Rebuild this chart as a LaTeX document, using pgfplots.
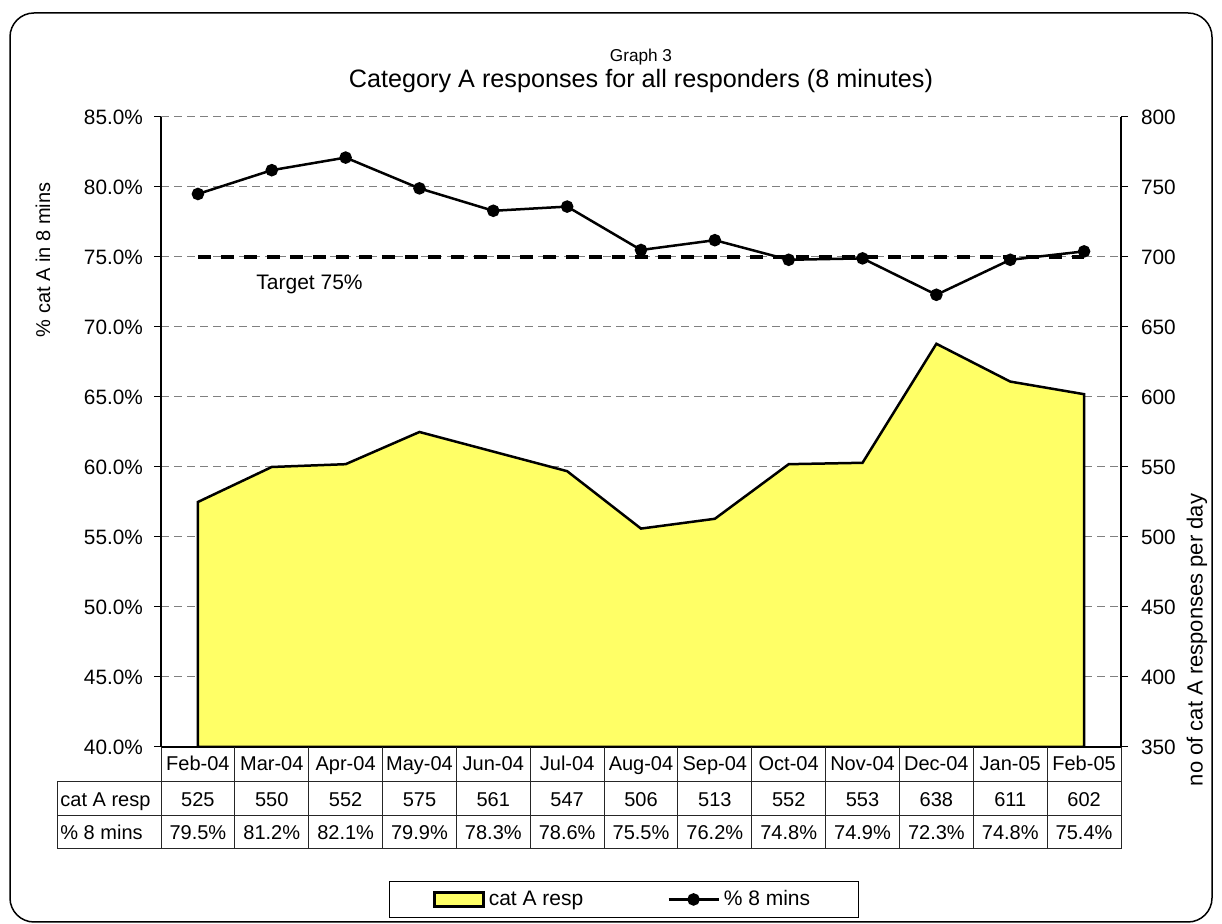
\documentclass[border=0pt]{standalone}
\usepackage{pgfplots}
\pgfplotsset{compat=1.18}
\usepackage{fontspec}
\setmainfont{Liberation Sans}
\definecolor{areayellow}{RGB}{255,255,102}
\definecolor{gridgray}{RGB}{128,128,128}
\newcommand{\fs}[1]{\fontsize{#1}{#1}\selectfont}

\pgfplotsset{
  mybase/.style={
    at={(80.5pt,88.5pt)}, anchor=south west,
    scale only axis, width=480pt, height=315pt,
    xmin=-0.5, xmax=12.5,
    /pgf/number format/assume math mode=true,
    tick align=outside, major tick length=3.5pt,
    tick style={black, line width=0.5pt},
    axis line style={black, line width=0.6pt, -},
    ticklabel style={font=\fs{10.4}},
    xtick=\empty,
  }
}

\begin{document}
\begin{tikzpicture}
\path[use as bounding box] (0,0) rectangle (611pt,462pt);
\draw[line width=0.75pt, rounded corners=12pt] (5pt,1pt) rectangle (606pt,455.5pt);

% right axis: area
\begin{axis}[mybase,
  ymin=350, ymax=800,
  axis y line*=right, axis x line=none,
  ytick={350,400,...,800},
  ymajorgrids,
  grid style={gridgray, dash pattern=on 4pt off 2.5pt, line width=0.5pt},
  yticklabel style={xshift=3pt},
]
\addplot[fill=areayellow, draw=black, line width=1.25pt] coordinates {
  (0,350) (0,525) (1,550) (2,552) (3,575) (4,561) (5,547) (6,506)
  (7,513) (8,552) (9,553) (10,638) (11,611) (12,602) (12,350)
} -- cycle;
\end{axis}

% left axis: percentage line
\begin{axis}[mybase,
  ymin=40, ymax=85,
  axis y line*=left, axis x line*=bottom,
  ytick={40,45,...,85},
  yticklabel={\pgfmathprintnumber[fixed,fixed zerofill,precision=1]{\tick}\%},
  yticklabel style={xshift=-2pt},
  legend columns=2,
  legend style={at={(0.482,-0.242)}, anchor=center, draw=black, line width=0.5pt,
    font=\fs{10.5}, inner xsep=22pt, inner ysep=2.5pt,
    /tikz/every even column/.append style={column sep=40pt}},
  legend entries={cat A resp, \% 8 mins},
]
\addlegendimage{legend image code/.code={\draw[fill=areayellow, draw=black, line width=1.25pt] (0pt,-3.5pt) rectangle (24.5pt,3.5pt);}}
\addplot[black, line width=1.25pt, mark=*, mark size=2.5pt,
  legend image code/.code={\draw[black, line width=1.25pt] (0pt,0pt) -- (25pt,0pt); \fill[black] (12.5pt,0pt) circle (2.5pt);}]
  coordinates {
  (0,79.5) (1,81.2) (2,82.1) (3,79.9) (4,78.3) (5,78.6) (6,75.5)
  (7,76.2) (8,74.8) (9,74.9) (10,72.3) (11,74.8) (12,75.4)
};
\addplot[black, line width=1.75pt, dash pattern=on 6.5pt off 5pt, forget plot]
  coordinates {(0,75) (12,75)};
\end{axis}

% titles and labels
\node[anchor=base, font=\fs{8.6}] at (320.5pt,431pt) {Graph 3};
\node[anchor=base, font=\fs{12.6}] at (320.5pt,418pt) {Category A responses for all responders (8 minutes)};
\node[rotate=90, font=\fs{10}] at (21.5pt,332pt) {\% cat A in 8 mins};
\node[rotate=90, font=\fs{11}] at (598.5pt,142pt) {no of cat A responses per day};
\node[anchor=base west, font=\fs{10.5}, inner sep=0pt] at (128pt,317pt) {Target 75\%};

% data table
\begin{scope}[x=1pt,y=1pt]
  \draw[black!85, line width=0.5pt]
    (28.5,71) -- (560.5,71)
    (28.5,54) -- (560.5,54)
    (28.5,37.5) -- (560.5,37.5)
    (28.5,71) -- (28.5,37.5);
  \foreach \i in {0,...,13}
    \draw[black!85, line width=0.5pt] ({80.5+36.923*\i},88.5) -- ({80.5+36.923*\i},37.5);
  \foreach \i/\m/\r/\p in {0/Feb-04/525/79.5, 1/Mar-04/550/81.2, 2/Apr-04/552/82.1,
      3/May-04/575/79.9, 4/Jun-04/561/78.3, 5/Jul-04/547/78.6, 6/Aug-04/506/75.5,
      7/Sep-04/513/76.2, 8/Oct-04/552/74.8, 9/Nov-04/553/74.9, 10/Dec-04/638/72.3,
      11/Jan-05/611/74.8, 12/Feb-05/602/75.4} {
    \node[anchor=base, font=\fs{10}, inner sep=0pt] at ({80.5+36.923*(\i+0.5)},76.5) {\m};
    \node[anchor=base, font=\fs{10}, inner sep=0pt] at ({80.5+36.923*(\i+0.5)},58.5) {\r};
    \node[anchor=base, font=\fs{10}, inner sep=0pt] at ({80.5+36.923*(\i+0.5)},42) {\p\%};
  }
  \node[anchor=base west, font=\fs{10}, inner sep=0pt] at (30,58.5) {cat A resp};
  \node[anchor=base west, font=\fs{10}, inner sep=0pt] at (30,42) {\% 8 mins};
\end{scope}
\end{tikzpicture}
\end{document}
